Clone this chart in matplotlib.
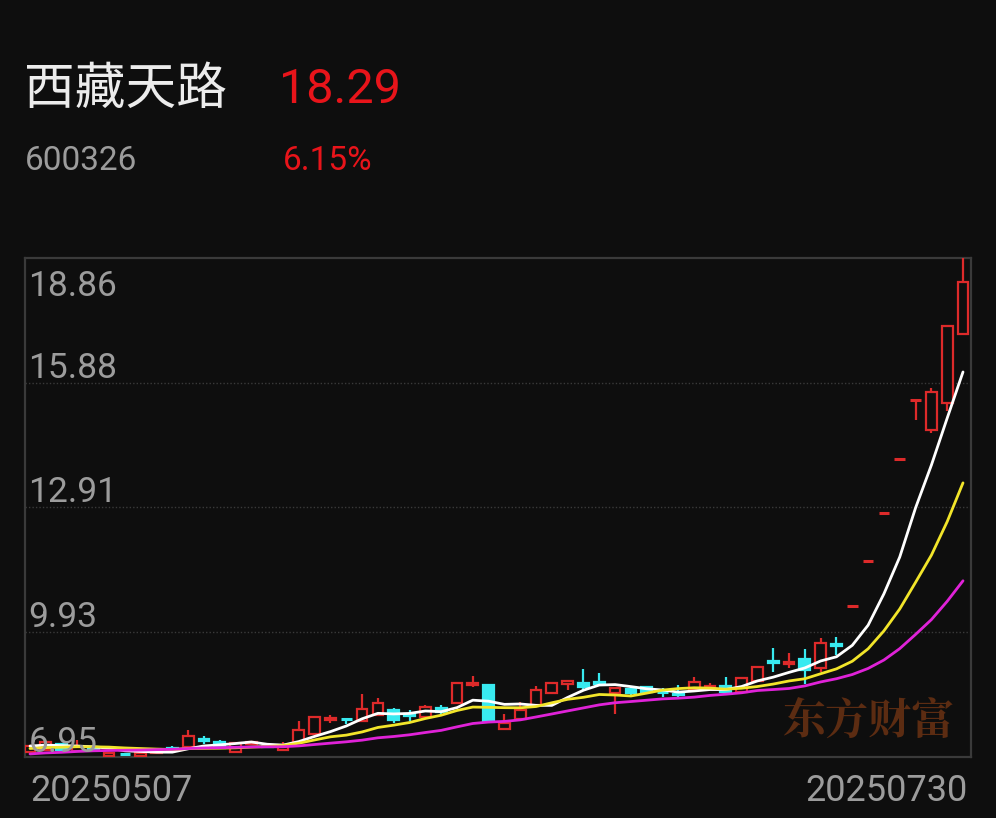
import matplotlib
matplotlib.use("Agg")
import matplotlib.pyplot as plt
from matplotlib.patches import Rectangle
import numpy as np

# ---------------- data ----------------
stock_name = "西藏天路"
stock_code = "600326"
last_price = "18.29"
pct_change = "6.15%"
date_start = "20250507"
date_end = "20250730"
ytick_values = [18.86, 15.88, 12.91, 9.93, 6.95]

# closes before the visible window (used only for moving averages)
history_closes = [6.80, 6.85, 6.78, 6.82, 6.90, 6.88, 6.95, 6.92, 6.98, 7.05,
                  7.10, 7.02, 7.08, 7.15, 7.12, 7.20, 7.18, 7.25, 7.22]

opens = [7.07, 7.12, 7.26, 7.10, 7.18, 6.98, 7.02, 6.98, 7.05, 7.17,
         7.19, 7.37, 7.31, 7.07, 7.26, 7.22, 7.12, 7.31, 7.50, 7.84,
         7.86, 7.81, 7.95, 8.07, 7.98, 7.90, 8.12, 8.24, 8.67, 8.67,
         7.62, 7.86, 8.19, 8.48, 8.69, 8.72, 8.74, 8.48, 8.57, 8.62,
         8.50, 8.46, 8.55, 8.62, 8.64, 8.50, 8.76, 9.24, 9.17, 9.29,
         9.07, 9.65, 10.56, 11.62, 12.78, 14.06, 15.46, 14.75, 15.40, 17.04]
highs = [7.23, 7.33, 7.28, 7.36, 7.22, 7.08, 7.05, 7.06, 7.14, 7.22,
         7.59, 7.45, 7.36, 7.30, 7.33, 7.24, 7.31, 7.81, 7.93, 7.95,
         7.87, 8.45, 8.36, 8.12, 8.07, 8.19, 8.19, 8.74, 8.88, 8.69,
         7.98, 8.26, 8.64, 8.74, 8.78, 9.05, 8.95, 8.62, 8.62, 8.64,
         8.60, 8.67, 8.86, 8.72, 8.86, 8.86, 9.12, 9.55, 9.43, 9.53,
         9.79, 9.81, 10.56, 11.62, 12.78, 14.06, 15.46, 15.76, 17.26, 18.86]
lows = [7.05, 7.10, 7.10, 7.07, 7.08, 6.96, 6.97, 6.96, 7.03, 7.10,
        7.17, 7.26, 7.15, 7.05, 7.24, 7.16, 7.10, 7.29, 7.48, 7.76,
        7.74, 7.79, 7.93, 7.76, 7.81, 7.88, 7.95, 8.22, 8.62, 7.79,
        7.60, 7.84, 8.17, 8.46, 8.55, 8.55, 8.67, 7.98, 8.43, 8.48,
        8.38, 8.38, 8.53, 8.55, 8.48, 8.48, 8.74, 8.98, 9.07, 8.69,
        8.98, 9.38, 10.56, 11.62, 12.78, 14.06, 14.99, 14.68, 15.22, 17.04]
closes = [7.21, 7.31, 7.12, 7.20, 7.12, 7.05, 7.00, 7.04, 7.12, 7.12,
          7.45, 7.34, 7.17, 7.28, 7.30, 7.18, 7.24, 7.59, 7.90, 7.87,
          7.85, 8.10, 8.24, 7.83, 7.93, 8.14, 8.02, 8.72, 8.72, 7.81,
          7.76, 8.07, 8.55, 8.72, 8.76, 8.62, 8.69, 8.60, 8.48, 8.50,
          8.48, 8.43, 8.74, 8.65, 8.50, 8.84, 9.10, 9.19, 9.22, 9.03,
          9.67, 9.60, 10.56, 11.62, 12.78, 14.06, 15.46, 15.66, 17.23, 18.29]

ma_windows = [5, 10, 20]
ma_colors = ["#ffffff", "#f2e52a", "#e022d8"]

# ---------------- style ----------------
BG = "#0e0e0e"
RED = "#dd2a2a"
CYAN = "#38eaf0"
TXT_RED = "#e8141a"
GREY_TXT = "#9c9c9c"
BORDER = "#3a3a3a"

plt.rcParams['font.family'] = ['Roboto', 'Noto Sans CJK SC', 'DejaVu Sans']

W, H = 996, 818
fig = plt.figure(figsize=(W / 100, H / 100), dpi=100, facecolor=BG)

L, R, T, B = 25, 971, 258, 757
ax = fig.add_axes([L / W, 1 - B / H, (R - L) / W, (B - T) / H])
ax.set_facecolor(BG)

n = len(closes)
x = np.arange(n)
spacing = (963 - 30) / (n - 1)
ax.set_xlim(-(30 - L) / spacing, (n - 1) + (R - 963) / spacing)
ymin, ymax = 6.95, 18.86
ax.set_ylim(ymin, ymax)

for s in ax.spines.values():
    s.set_color(BORDER)
    s.set_linewidth(1.6)
ax.set_xticks([])
ax.set_yticks([])

# dotted grid lines
for v in ytick_values[1:-1]:
    ax.axhline(v, color="#3a3a3a", lw=1.0, ls=(0, (1, 1.5)), zorder=0)

# candles
bw = 0.68
lw = 1.6
for i in range(n):
    o, h, l, c = opens[i], highs[i], lows[i], closes[i]
    up = c >= o
    col = RED if up else CYAN
    top, bot = max(o, c), min(o, c)
    if top - bot < 0.03:
        ax.hlines((top + bot) / 2, i - bw / 2, i + bw / 2, color=col, lw=2.2, zorder=3)
        ax.vlines(i, l, h, color=col, lw=lw, zorder=3)
    else:
        if up:
            rect = Rectangle((i - bw / 2, bot), bw, top - bot, facecolor=BG,
                             edgecolor=col, lw=lw, zorder=3)
        else:
            rect = Rectangle((i - bw / 2, bot), bw, top - bot, facecolor=col,
                             edgecolor=col, lw=lw, zorder=3)
        ax.add_patch(rect)
        if h > top:
            ax.vlines(i, top, h, color=col, lw=lw, zorder=3)
        if l < bot:
            ax.vlines(i, l, bot, color=col, lw=lw, zorder=3)

# moving averages
allc = np.array(history_closes + closes)
off = len(history_closes)
for w, colr in zip(ma_windows, ma_colors):
    ma = np.array([allc[off + i - w + 1: off + i + 1].mean() for i in range(n)])
    ax.plot(x, ma, color=colr, lw=2.0, zorder=4, solid_capstyle='round')

# watermark
ax.text(869 / W, 1 - 722 / H, "东方财富", transform=fig.transFigure,
        color="#5c2c12", fontsize=31, fontweight='bold', ha='center', va='center',
        family=['Noto Serif CJK SC', 'Noto Sans CJK SC'], zorder=2)

# y labels
for v in ytick_values:
    if v == ytick_values[0]:
        ax.text(28 / W, 1 - 286 / H, f"{v:.2f}", transform=fig.transFigure,
                color=GREY_TXT, fontsize=25.5, ha='left', va='center', zorder=6)
    else:
        ax.annotate(f"{v:.2f}", xy=(0, v), xycoords=('axes fraction', 'data'),
                    xytext=(2.5, -1.5), textcoords='offset points',
                    color=GREY_TXT, fontsize=25.5, ha='left', va='bottom', zorder=6)

# dates
fig.text(30 / W, 1 - 791 / H, date_start, color=GREY_TXT, fontsize=26,
         ha='left', va='center')
fig.text(968 / W, 1 - 791 / H, date_end, color=GREY_TXT, fontsize=26,
         ha='right', va='center')

# header
fig.text(24 / W, 1 - 90 / H, stock_name, color="#ececec", fontsize=36.5,
         ha='left', va='center', family=['Noto Sans CJK SC', 'DejaVu Sans'])
fig.text(279 / W, 1 - 90 / H, last_price, color=TXT_RED, fontsize=35,
         ha='left', va='center')
fig.text(25 / W, 1 - 161 / H, stock_code, color=GREY_TXT, fontsize=24,
         ha='left', va='center')
fig.text(283 / W, 1 - 161 / H, pct_change, color=TXT_RED, fontsize=24,
         ha='left', va='center')

fig.savefig("out.png", dpi=100, facecolor=BG)
